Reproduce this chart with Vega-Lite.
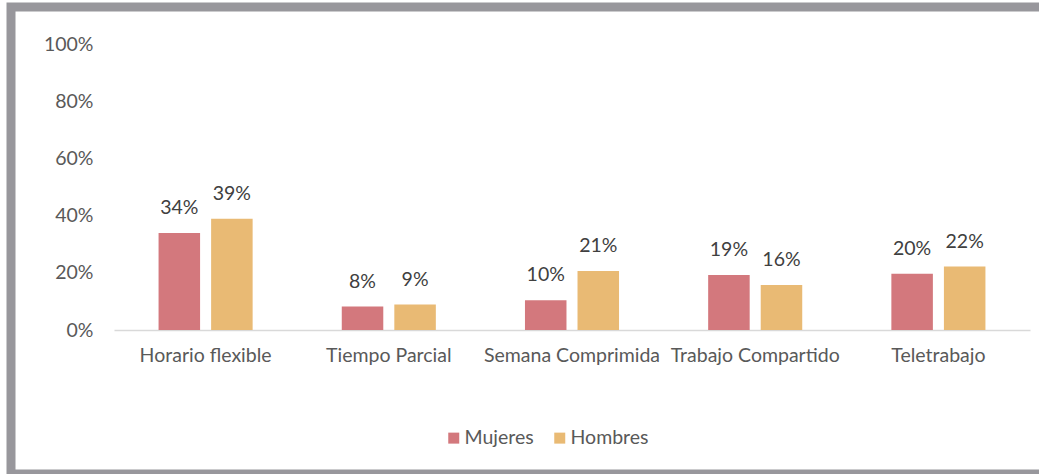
{
  "$schema": "https://vega.github.io/schema/vega-lite/v6.json",
  "width": 1033,
  "height": 467,
  "autosize": {"type": "none"},
  "padding": {"left": 11, "top": 7, "right": -5, "bottom": 0},
  "background": "white",
  "config": {
    "view": {"stroke": "#98979c", "strokeWidth": 9, "fill": "white"},
    "font": "Lato",
    "text": {"font": "Lato"}
  },
  "data": {
    "values": [
      {"categoria": "Horario flexible", "sexo": "Mujeres", "valor": 0.34},
      {"categoria": "Horario flexible", "sexo": "Hombres", "valor": 0.39},
      {"categoria": "Tiempo Parcial", "sexo": "Mujeres", "valor": 0.082},
      {"categoria": "Tiempo Parcial", "sexo": "Hombres", "valor": 0.089},
      {"categoria": "Semana Comprimida", "sexo": "Mujeres", "valor": 0.104},
      {"categoria": "Semana Comprimida", "sexo": "Hombres", "valor": 0.207},
      {"categoria": "Trabajo Compartido", "sexo": "Mujeres", "valor": 0.193},
      {"categoria": "Trabajo Compartido", "sexo": "Hombres", "valor": 0.158},
      {"categoria": "Teletrabajo", "sexo": "Mujeres", "valor": 0.197},
      {"categoria": "Teletrabajo", "sexo": "Hombres", "valor": 0.222}
    ]
  },
  "encoding": {
    "x": {
      "field": "categoria",
      "type": "nominal",
      "sort": null,
      "scale": {"range": [103, 1019], "paddingInner": 0, "paddingOuter": 0},
      "axis": {
        "title": null,
        "orient": "bottom",
        "offset": -144,
        "labelAngle": 0,
        "labelOverlap": false,
        "labelFont": "Lato",
        "labelFontSize": 19.5,
        "labelColor": "#595959",
        "labelPadding": 16,
        "ticks": false,
        "tickSize": 0,
        "domainColor": "#d9d9d9",
        "domainWidth": 1.5,
        "grid": false
      }
    },
    "xOffset": {
      "field": "sexo",
      "type": "nominal",
      "sort": ["Mujeres", "Hombres"],
      "scale": {"paddingInner": 0.21, "paddingOuter": 0.848}
    },
    "y": {
      "field": "valor",
      "type": "quantitative",
      "scale": {"domain": [0, 1], "range": [323, 37.5]},
      "axis": {
        "title": null,
        "orient": "left",
        "offset": -84,
        "values": [0, 0.2, 0.4, 0.6, 0.8, 1],
        "format": ".0%",
        "domain": false,
        "ticks": false,
        "tickSize": 0,
        "grid": false,
        "labelPadding": 2,
        "labelFont": "Lato",
        "labelFontSize": 19.5,
        "labelColor": "#595959"
      }
    }
  },
  "layer": [
    {
      "mark": {"type": "bar"},
      "encoding": {
        "color": {
          "field": "sexo",
          "type": "nominal",
          "sort": ["Mujeres", "Hombres"],
          "scale": {"domain": ["Mujeres", "Hombres"], "range": ["#d3787d", "#e9ba74"]},
          "legend": {
            "title": null,
            "orient": "none",
            "direction": "horizontal",
            "legendX": 433,
            "legendY": 421,
            "symbolType": "square",
            "symbolSize": 121,
            "symbolStrokeWidth": 0,
            "labelFont": "Lato",
            "labelFontSize": 19.5,
            "labelColor": "#595959",
            "labelOffset": 1,
            "columnPadding": 16
          }
        }
      }
    },
    {
      "mark": {"type": "text", "baseline": "alphabetic", "dy": -19, "font": "Lato", "fontSize": 19.5, "color": "#404040"},
      "encoding": {
        "text": {"field": "valor", "type": "quantitative", "format": ".0%"}
      }
    }
  ]
}
